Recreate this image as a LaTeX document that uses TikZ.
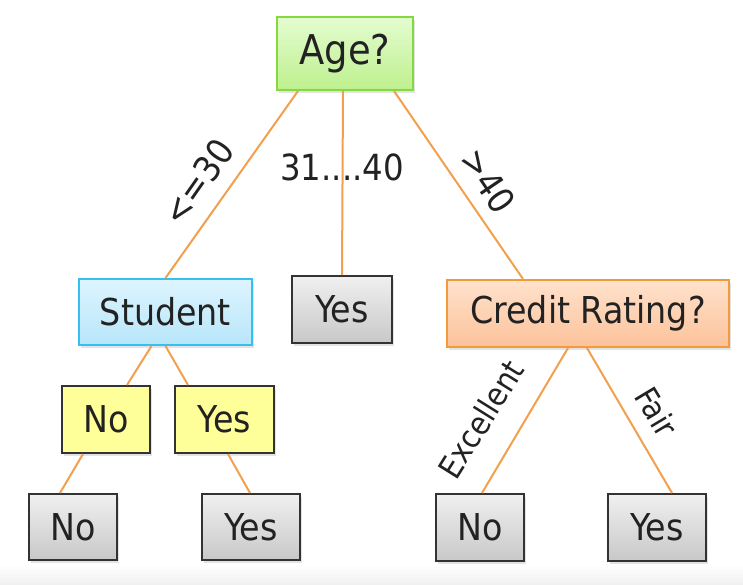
\documentclass[tikz,border=0pt]{standalone}
\usepackage{fontspec}
\setmainfont{DejaVu Sans Condensed}
\usetikzlibrary{shadows}
\definecolor{edgeor}{HTML}{F2A04E}
\definecolor{txt}{HTML}{222222}
\definecolor{grnT}{HTML}{E4FCD0}\definecolor{grnB}{HTML}{BEF08E}\definecolor{grnD}{HTML}{84D840}
\definecolor{bluT}{HTML}{DDF4FE}\definecolor{bluB}{HTML}{B8E6FA}\definecolor{bluD}{HTML}{36BFF0}
\definecolor{orT}{HTML}{FFE2CC}\definecolor{orB}{HTML}{FCC29A}\definecolor{orD}{HTML}{F39A3C}
\definecolor{yelF}{HTML}{FFFF99}
\definecolor{gryT}{HTML}{F0F0F0}\definecolor{gryB}{HTML}{C8C8C8}
\definecolor{boxD}{HTML}{333333}
\tikzset{
  box/.style={rectangle, inner sep=0pt, align=center, text=txt,
    font=\fontsize{37}{42}\selectfont, line width=2pt,
    drop shadow={shadow xshift=2pt, shadow yshift=-3pt, opacity=0.22}},
  greenbox/.style={box, draw=grnD, top color=grnT, bottom color=grnB},
  bluebox/.style={box, draw=bluD, top color=bluT, bottom color=bluB},
  orangebox/.style={box, draw=orD, top color=orT, bottom color=orB},
  yellowbox/.style={box, draw=boxD, fill=yelF},
  graybox/.style={box, draw=boxD, top color=gryT, bottom color=gryB},
  conn/.style={draw=edgeor, line width=2pt},
  lbl/.style={inner sep=0pt, text=txt, font=\fontsize{36}{40}\selectfont},
  smlbl/.style={lbl, font=\fontsize{32}{36}\selectfont}
}
\begin{document}
\begin{tikzpicture}[x=1pt, y=-1pt]
\useasboundingbox (0,0) rectangle (743,585);
\fill[white] (0,0) rectangle (743,585);
\shade[top color=white, bottom color=black!6] (0,565) rectangle (743,585);
% nodes
\node[greenbox, minimum width=136pt, minimum height=73pt, font=\fontsize{41}{46}\selectfont] (age) at (345,53.5) {Age?};
\node[bluebox, minimum width=173pt, minimum height=66pt] (student) at (165.5,312) {Student};
\node[graybox, minimum width=100pt, minimum height=67pt] (yesm) at (342,309.5) {Yes};
\node[orangebox, minimum width=282pt, minimum height=67pt] (credit) at (588,313.5) {Credit Rating?};
\node[yellowbox, minimum width=88pt, minimum height=67pt] (yno) at (106,419.5) {No};
\node[yellowbox, minimum width=99pt, minimum height=67pt] (yyes) at (224.5,419.5) {Yes};
\node[graybox, minimum width=88pt, minimum height=66pt] (gno1) at (73,527) {No};
\node[graybox, minimum width=98pt, minimum height=66pt] (gyes1) at (251,527) {Yes};
\node[graybox, minimum width=88pt, minimum height=67pt] (gno2) at (480,527.5) {No};
\node[graybox, minimum width=98pt, minimum height=67pt] (gyes2) at (657,527.5) {Yes};
% connectors
\draw[conn] ([xshift=-47pt]age.south) -- (student.north);
\draw[conn] ([xshift=-2pt]age.south) -- (yesm.north);
\draw[conn] ([xshift=49pt]age.south) -- ([xshift=-65pt]credit.north);
\draw[conn] ([xshift=-14pt]student.south) -- ([xshift=21pt]yno.north);
\draw[conn] ([xshift=0pt]student.south) -- ([xshift=-36.5pt]yyes.north);
\draw[conn] ([xshift=-23pt]yno.south) -- ([xshift=-13pt]gno1.north);
\draw[conn] ([xshift=3.5pt]yyes.south) -- ([xshift=-1pt]gyes1.north);
\draw[conn] ([xshift=-20pt]credit.south) -- ([xshift=2pt]gno2.north);
\draw[conn] ([xshift=-1pt]credit.south) -- ([xshift=15pt]gyes2.north);
% labels
\node[lbl, rotate=55] (l1) at (198,182) {<=30};
\node[lbl] (l2) at (342,167) {31....40};
\node[lbl, rotate=-56] (l3) at (488,181) {>40};
\node[smlbl, rotate=58] (l4) at (481,419) {Excellent};
\node[smlbl, rotate=-59] (l5) at (657,412) {Fair};
\end{tikzpicture}
\end{document}
